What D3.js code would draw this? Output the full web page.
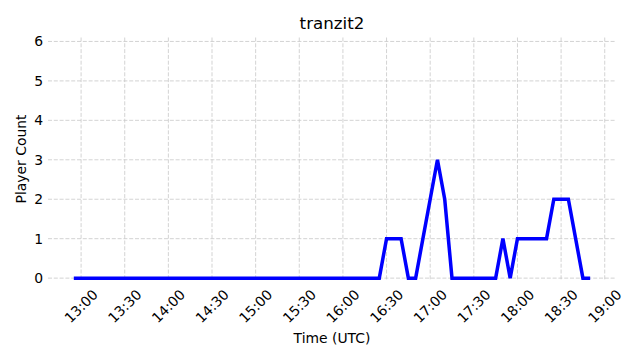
<!DOCTYPE html>
<html>
<head>
<meta charset="utf-8">
<script src="https://cdn.jsdelivr.net/npm/d3@7"></script>
<style>
    body { margin: 0; background: #fff; }
    text { font-family: "DejaVu Sans", sans-serif; fill: #000; }
</style>
</head>
<body>
<svg width="640" height="360"></svg>
<script>
var chartTitle = 'tranzit2';
var xLabel = 'Time (UTC)';
var yLabel = 'Player Count';

// samples, one every 5 min (UTC)
var times = [
    '12:55',
    '13:00', '13:05', '13:10', '13:15', '13:20', '13:25', '13:30', '13:35', '13:40', '13:45', '13:50', '13:55',
    '14:00', '14:05', '14:10', '14:15', '14:20', '14:25', '14:30', '14:35', '14:40', '14:45', '14:50', '14:55',
    '15:00', '15:05', '15:10', '15:15', '15:20', '15:25', '15:30', '15:35', '15:40', '15:45', '15:50', '15:55',
    '16:00', '16:05', '16:10', '16:15', '16:20', '16:25', '16:30', '16:35', '16:40', '16:45', '16:50', '16:55',
    '17:00', '17:05', '17:10', '17:15', '17:20', '17:25', '17:30', '17:35', '17:40', '17:45', '17:50', '17:55',
    '18:00', '18:05', '18:10', '18:15', '18:20', '18:25', '18:30', '18:35', '18:40', '18:45', '18:50'
];
var counts = [
    0,
    0, 0, 0, 0, 0, 0, 0, 0, 0, 0, 0, 0,
    0, 0, 0, 0, 0, 0, 0, 0, 0, 0, 0, 0,
    0, 0, 0, 0, 0, 0, 0, 0, 0, 0, 0, 0,
    0, 0, 0, 0, 0, 0, 1, 1, 1, 0, 0, 1,
    2, 3, 2, 0, 0, 0, 0, 0, 0, 0, 1, 0,
    1, 1, 1, 1, 1, 2, 2, 2, 1, 0, 0
];
var xTickLabels = ['13:00', '13:30', '14:00', '14:30', '15:00', '15:30', '16:00', '16:30', '17:00', '17:30', '18:00', '18:30', '19:00'];
var yTicks = [0, 1, 2, 3, 4, 5, 6];

function toDate(s) {
    var p = s.split(':');
    return new Date(Date.UTC(2024, 0, 1, +p[0], +p[1]));
}

var data = times.map(function(t, i) { return {t: toDate(t), v: counts[i]}; });

var margin = {top: 37.5, right: 24, bottom: 79.5, left: 48};
var W = 640, H = 360;
var w = W - margin.left - margin.right,
    h = H - margin.top - margin.bottom;

var svg = d3.select('svg')
    .append('g')
    .attr('transform', 'translate(' + margin.left + ',' + margin.top + ')');

// matplotlib-like 5% margins on x
var ext = d3.extent(data, function(d) { return d.t; });
var span = ext[1] - ext[0];
var x = d3.scaleUtc()
    .domain([new Date(+ext[0] - span * 0.05), new Date(+ext[1] + span * 0.05)])
    .range([0, w]);
var y = d3.scaleLinear()
    .domain([-0.06, 6.1])
    .range([h, 0]);

var gridStyle = function(sel) {
    sel.attr('stroke', '#c8c8c8')
        .attr('stroke-width', 0.8)
        .attr('stroke-dasharray', '4,1.8')
        .attr('fill', 'none');
};

// grid
svg.append('g').selectAll('line.vg')
    .data(xTickLabels)
    .enter().append('line')
    .attr('class', 'vg')
    .attr('x1', function(d) { return x(toDate(d)); })
    .attr('x2', function(d) { return x(toDate(d)); })
    .attr('y1', 0)
    .attr('y2', h)
    .call(gridStyle);

svg.append('g').selectAll('line.hg')
    .data(yTicks)
    .enter().append('line')
    .attr('class', 'hg')
    .attr('x1', 0)
    .attr('x2', w)
    .attr('y1', function(d) { return y(d); })
    .attr('y2', function(d) { return y(d); })
    .call(gridStyle);

// y tick labels
svg.append('g').selectAll('text')
    .data(yTicks)
    .enter().append('text')
    .attr('x', -4.9)
    .attr('y', function(d) { return y(d); })
    .attr('dy', '0.36em')
    .attr('text-anchor', 'end')
    .style('font-size', '13.9px')
    .text(function(d) { return d; });

// x tick labels, rotated 45 and centred under the tick
svg.append('g').selectAll('text')
    .data(xTickLabels)
    .enter().append('text')
    .attr('transform', function(d) { return 'translate(' + x(toDate(d)) + ',' + (h + 25.5) + ')rotate(-45)'; })
    .attr('dy', '0.36em')
    .attr('text-anchor', 'middle')
    .style('font-size', '13.9px')
    .text(function(d) { return d; });

// line
var line = d3.line()
    .x(function(d) { return x(d.t); })
    .y(function(d) { return y(d.v); });

svg.append('path')
    .datum(data)
    .attr('d', line)
    .attr('fill', 'none')
    .attr('stroke', '#0000ff')
    .attr('stroke-width', 3.5)
    .attr('stroke-linejoin', 'miter')
    .attr('stroke-linecap', 'butt');

// labels
svg.append('text')
    .attr('x', w / 2)
    .attr('y', -8.5)
    .attr('text-anchor', 'middle')
    .style('font-size', '16.7px')
    .text(chartTitle);

svg.append('text')
    .attr('x', w / 2)
    .attr('y', h + 62.5)
    .attr('text-anchor', 'middle')
    .style('font-size', '13.9px')
    .text(xLabel);

svg.append('text')
    .attr('transform', 'translate(' + (-22) + ',' + (h / 2) + ')rotate(-90)')
    .attr('text-anchor', 'middle')
    .style('font-size', '13.9px')
    .text(yLabel);
</script>
</body>
</html>
